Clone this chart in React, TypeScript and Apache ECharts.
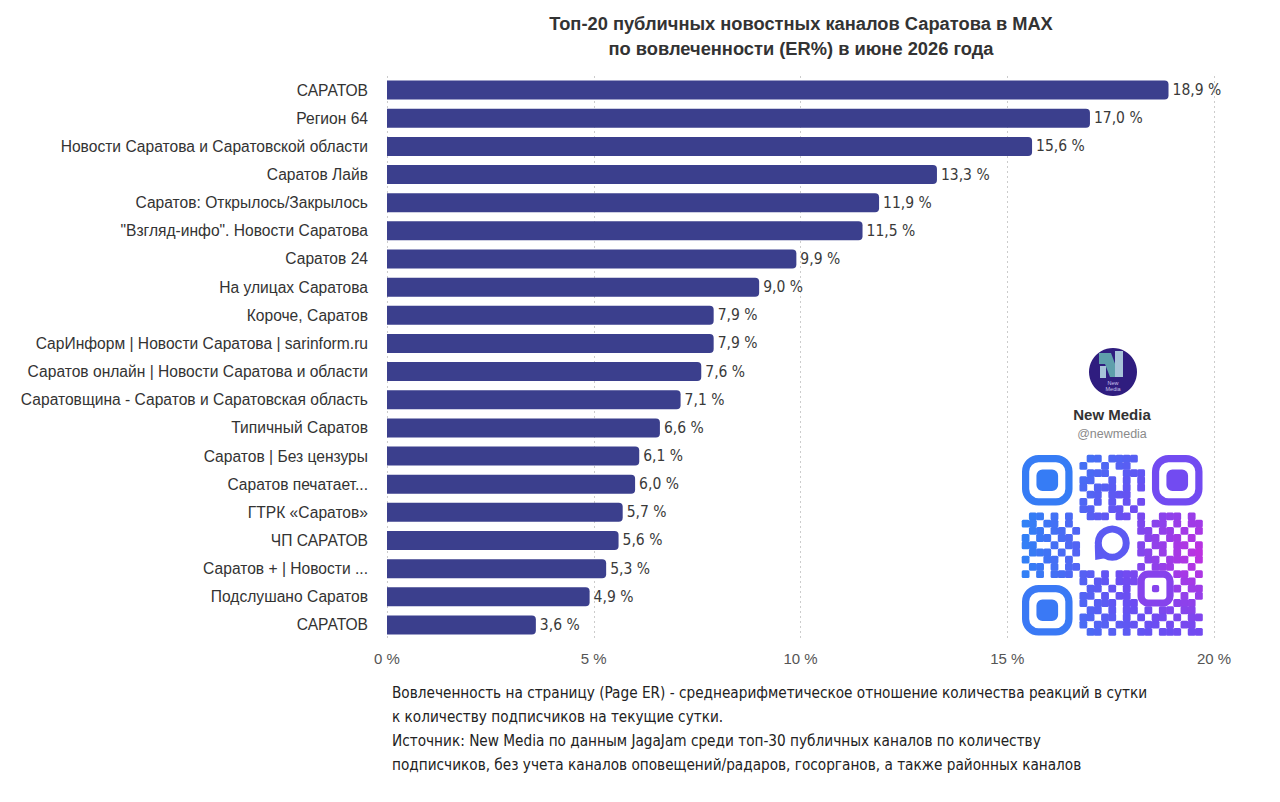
import React, { useEffect, useRef } from "react";
import * as echarts from "echarts";

const categories = [
  "САРАТОВ",
  "Регион 64",
  "Новости Саратова и Саратовской области",
  "Саратов Лайв",
  "Саратов: Открылось/Закрылось",
  "\"Взгляд-инфо\". Новости Саратова",
  "Саратов 24",
  "На улицах Саратова",
  "Короче, Саратов",
  "СарИнформ | Новости Саратова | sarinform.ru",
  "Саратов онлайн | Новости Саратова и области",
  "Саратовщина - Саратов и Саратовская область",
  "Типичный Саратов",
  "Саратов | Без цензуры",
  "Саратов печатает...",
  "ГТРК «Саратов»",
  "ЧП САРАТОВ",
  "Саратов + | Новости ...",
  "Подслушано Саратов",
  "САРАТОВ",
];

const values = [18.9, 17.0, 15.6, 13.3, 11.9, 11.5, 9.9, 9.0, 7.9, 7.9, 7.6, 7.1, 6.6, 6.1, 6.0, 5.7, 5.6, 5.3, 4.9, 3.6];

const xMin = 0;
const xMax = 20;
const xStep = 5;

const titleLines = [
  "Топ-20 публичных новостных каналов Саратова в MAX",
  "по вовлеченности (ER%) в июне 2026 года",
];

const footerLines = [
  "Вовлеченность на страницу (Page ER) - среднеарифметическое отношение количества реакций в сутки",
  "к количеству подписчиков на текущие сутки.",
  "Источник: New Media по данным JagaJam среди топ-30 публичных каналов по количеству",
  "подписчиков, без учета каналов оповещений/радаров, госорганов, а также районных каналов",
];

// decorative QR module pattern (finders / alignment / logo area drawn separately)
const QR_ROWS = [
  "00000000" + "011011110" + "00000000",
  "00000000" + "100101100" + "00000000",
  "00000000" + "011100111" + "00000000",
  "00000000" + "110010101" + "00000000",
  "00000000" + "101110101" + "00000000",
  "00000000" + "011011100" + "00000000",
  "00000000" + "101010101" + "00000000",
  "00000000" + "110011010" + "00000000",
  "0110101001110110100111010",
  "110110100" + "0000000" + "101101011",
  "011011010" + "0000000" + "110110101",
  "101101100" + "0000000" + "011011010",
  "110010110" + "0000000" + "101101101",
  "011101010" + "0000000" + "110101011",
  "100110100" + "0000000" + "011011101",
  "011010110" + "0000000" + "101110010",
  "1010111011010111" + "00000" + "1101",
  "00000000" + "10110111" + "00000" + "0110",
  "00000000" + "01101010" + "00000" + "1011",
  "00000000" + "11010110" + "00000" + "0101",
  "00000000" + "10111011" + "00000" + "1110",
  "00000000" + "01101011010110110",
  "00000000" + "11011010101101011",
  "00000000" + "10110111011010110",
  "00000000" + "01101010110111011",
];

const BAR_COLOR = "#3b3f8d";
const SANS = "'Liberation Sans', Arial, Helvetica, sans-serif";
const NARROW = "'DejaVu Sans Condensed', 'Liberation Sans', sans-serif";

function hexToRgb(h: string) {
  const n = parseInt(h.slice(1), 16);
  return [(n >> 16) & 255, (n >> 8) & 255, n & 255];
}
function mix(a: string, b: string, t: number) {
  const ca = hexToRgb(a);
  const cb = hexToRgb(b);
  const c = ca.map((v, i) => Math.round(v + (cb[i] - v) * t));
  return `rgb(${c[0]},${c[1]},${c[2]})`;
}

function buildQr(): any[] {
  const qx = 1022;
  const qy = 455;
  const m = 7.22;
  const W = 25 * m;
  const cx = qx + W;
  const cy = qy + 0.55 * W;
  const colorAt = (x: number, y: number) => {
    const d = Math.hypot(x - cx, y - cy) / (1.05 * W);
    const t = Math.max(0, Math.min(1, d));
    if (t < 0.45) return mix("#c12fe0", "#6b4df2", t / 0.45);
    return mix("#6b4df2", "#2b86f6", (t - 0.45) / 0.55);
  };
  const els: any[] = [];
  QR_ROWS.forEach((row, r) => {
    for (let c = 0; c < row.length; c++) {
      if (row[c] !== "1") continue;
      const x = qx + c * m;
      const y = qy + r * m;
      els.push({
        type: "rect",
        silent: true,
        shape: { x: x - 0.3, y: y - 0.3, width: m + 0.6, height: m + 0.6, r: 1.5 },
        style: { fill: colorAt(x + m / 2, y + m / 2) },
      });
    }
  });
  const finder = (c0: number, r0: number) => {
    const x = qx + c0 * m;
    const y = qy + r0 * m;
    const col = colorAt(x + 3.5 * m, y + 3.5 * m);
    els.push({
      type: "rect",
      silent: true,
      shape: { x: x + m / 2, y: y + m / 2, width: 6 * m, height: 6 * m, r: 13 },
      style: { fill: "none", stroke: col, lineWidth: m },
    });
    els.push({
      type: "rect",
      silent: true,
      shape: { x: x + 2 * m, y: y + 2 * m, width: 3 * m, height: 3 * m, r: 6 },
      style: { fill: col },
    });
  };
  finder(0, 0);
  finder(18, 0);
  finder(0, 18);
  {
    const x = qx + 16 * m;
    const y = qy + 16 * m;
    const col = colorAt(x + 2.5 * m, y + 2.5 * m);
    els.push({
      type: "rect",
      silent: true,
      shape: { x: x + m / 2, y: y + m / 2, width: 4 * m, height: 4 * m, r: 7 },
      style: { fill: "none", stroke: col, lineWidth: m },
    });
    els.push({
      type: "rect",
      silent: true,
      shape: { x: x + 2 * m, y: y + 2 * m, width: m, height: m, r: 2 },
      style: { fill: col },
    });
  }
  const lx = qx + 12.5 * m;
  const ly = qy + 12.2 * m;
  const lcol = "#5c5af2";
  els.push({
    type: "circle",
    silent: true,
    shape: { cx: lx, cy: ly, r: 14 },
    style: { fill: "none", stroke: lcol, lineWidth: 7 },
  });
  els.push({
    type: "polygon",
    silent: true,
    shape: { points: [[lx - 17.5, ly + 2], [lx - 17, ly + 17], [lx - 6, ly + 15]] },
    style: { fill: lcol },
  });
  return els;
}

function buildLogo(): any[] {
  const cx = 1113;
  const cy = 372;
  return [
    { type: "circle", silent: true, shape: { cx, cy, r: 24 }, style: { fill: "#2f1d7f" } },
    {
      type: "polygon",
      silent: true,
      shape: { points: [[cx - 14, cy - 19], [cx - 2, cy - 19], [cx + 7, cy + 5], [cx - 3, cy + 5], [cx - 8, cy - 8], [cx - 14, cy - 8]] },
      style: { fill: "#5e9fab" },
    },
    { type: "rect", silent: true, shape: { x: cx - 13, y: cy - 6, width: 6, height: 12 }, style: { fill: "#a6c3d8" } },
    { type: "rect", silent: true, shape: { x: cx + 2, y: cy - 21, width: 8, height: 26 }, style: { fill: "#a6c3d8" } },
    {
      type: "text",
      silent: true,
      style: {
        x: cx,
        y: cy + 14,
        text: "New\nMedia",
        fontSize: 5.5,
        lineHeight: 6,
        fill: "#c9c2ec",
        align: "center",
        verticalAlign: "middle",
        fontFamily: SANS,
      },
    },
    {
      type: "text",
      silent: true,
      style: {
        x: 1112,
        y: 414,
        text: "New Media",
        fontSize: 15,
        fontWeight: "bold",
        fill: "#333333",
        align: "center",
        verticalAlign: "middle",
        fontFamily: SANS,
      },
    },
    {
      type: "text",
      silent: true,
      style: {
        x: 1112,
        y: 434,
        text: "@newmedia",
        fontSize: 12.5,
        fill: "#8a8a8a",
        align: "center",
        verticalAlign: "middle",
        fontFamily: SANS,
      },
    },
  ];
}

export default function App() {
  const ref = useRef<HTMLDivElement>(null);
  useEffect(() => {
    document.body.style.margin = "0";
    if (!ref.current) return;
    const chart = echarts.init(ref.current, null, { renderer: "svg" });
    const titleEls = [
      { x: 801, y: 23.5, text: titleLines[0] },
      { x: 801, y: 48, text: titleLines[1] },
    ].map((t) => ({
      type: "text",
      silent: true,
      style: {
        x: t.x,
        y: t.y,
        text: t.text,
        fontSize: 18.3,
        fontWeight: "bold",
        fill: "#333333",
        align: "center",
        verticalAlign: "middle",
        fontFamily: SANS,
      },
    }));
    const footerEls = footerLines.map((line, i) => ({
      type: "text",
      silent: true,
      style: {
        x: 392,
        y: 693 + i * 24,
        text: line,
        fontSize: 15.2,
        fill: "#222222",
        align: "left",
        verticalAlign: "middle",
        fontFamily: NARROW,
      },
    }));
    chart.setOption({
      animation: false,
      backgroundColor: "#ffffff",
      grid: { left: 387, right: 66, top: 76, bottom: 163, containLabel: false },
      xAxis: {
        type: "value",
        min: xMin,
        max: xMax,
        interval: xStep,
        axisLine: { show: false },
        axisTick: { show: false },
        axisLabel: {
          formatter: (v: number) => `${v} %`,
          fontSize: 15,
          color: "#555555",
          margin: 12,
          fontFamily: SANS,
        },
        splitLine: { show: true, lineStyle: { color: "#cccccc", type: [2, 3], width: 1 } },
      },
      yAxis: {
        type: "category",
        inverse: true,
        data: categories.map((_, i) => String(i)),
        axisLine: { show: false },
        axisTick: { show: false },
        axisLabel: {
          formatter: (_v: string, i: number) => categories[i],
          fontSize: 15.6,
          color: "#333333",
          margin: 19,
          fontFamily: SANS,
        },
      },
      series: [
        {
          type: "bar",
          data: values,
          barWidth: 19,
          itemStyle: { color: BAR_COLOR, borderRadius: [0, 4, 4, 0] },
          label: {
            show: true,
            position: "right",
            distance: 4,
            formatter: (p: any) => `${Number(p.value).toFixed(1).replace(".", ",")} %`,
            fontSize: 15.5,
            color: "#3a3a3a",
            fontFamily: NARROW,
          },
        },
      ],
      graphic: [...titleEls, ...footerEls, ...buildLogo(), ...buildQr()],
    });
    return () => chart.dispose();
  }, []);
  return <div ref={ref} style={{ width: 1280, height: 802 }} />;
}
